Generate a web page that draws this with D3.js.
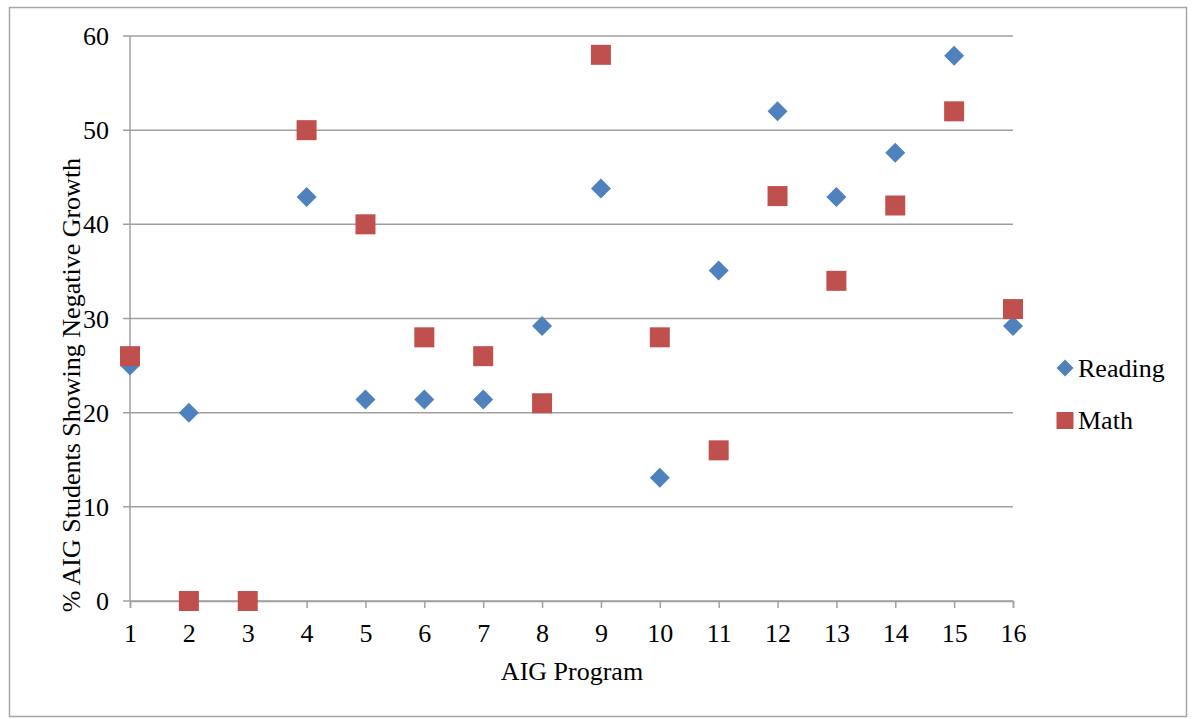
<!DOCTYPE html>
<html>
<head>
    <script src="https://d3js.org/d3.v7.min.js"></script>
</head>
<body style="margin: 0; padding: 0; background: #fff;">
    <div id="container"></div>
    <script>
        // Valores
        var programs = [1, 2, 3, 4, 5, 6, 7, 8, 9, 10, 11, 12, 13, 14, 15, 16];
        var reading = [25, 20, 0, 42.9, 21.4, 21.4, 21.4, 29.2, 43.8, 13.1, 35.1, 52, 42.9, 47.6, 57.9, 29.2];
        var math = [26, 0, 0, 50, 40, 28, 26, 21, 58, 28, 16, 43, 34, 42, 52, 31];
        var yTicks = [0, 10, 20, 30, 40, 50, 60];
        var seriesNames = ["Reading", "Math"];

        var colors = { Reading: "#4F81BD", Math: "#C0504D" };
        var width = 1196, height = 719;
        var font = "'Liberation Serif', 'Times New Roman', serif";
        var fontSize = "26px";

        var svg = d3.select("#container").append("svg")
            .attr("width", width)
            .attr("height", height);

        // borda do gráfico
        svg.append("rect")
            .attr("x", 9.5).attr("y", 7.5)
            .attr("width", 1177).attr("height", 709)
            .style("fill", "none")
            .style("stroke", "#A6A6A6")
            .style("stroke-width", 1.5);

        var x = d3.scaleLinear().domain([1, 16]).range([130, 1013]);
        var y = d3.scaleLinear().domain([0, 60]).range([601, 36]);

        // linhas de grade
        svg.append("g").selectAll("line")
            .data(yTicks)
            .enter().append("line")
            .attr("x1", 123).attr("x2", 1013)
            .attr("y1", d => y(d)).attr("y2", d => y(d))
            .style("stroke", "#A0A0A0")
            .style("stroke-width", 1.5);

        // eixo Y
        svg.append("line")
            .attr("x1", 130).attr("x2", 130)
            .attr("y1", y(60)).attr("y2", y(0))
            .style("stroke", "#A0A0A0")
            .style("stroke-width", 1.5);

        svg.append("g").selectAll("text")
            .data(yTicks)
            .enter().append("text")
            .attr("x", 109)
            .attr("y", d => y(d) + 9)
            .attr("text-anchor", "end")
            .style("font-family", font)
            .style("font-size", fontSize)
            .text(d => d);

        // eixo X
        var xAxis = svg.append("g")
            .attr("transform", "translate(0," + y(0) + ")")
            .call(d3.axisBottom(x).tickValues(programs).tickSize(7).tickFormat(d3.format("d")));
        xAxis.select(".domain").style("stroke", "#A0A0A0").style("stroke-width", 1.5);
        xAxis.selectAll(".tick line").style("stroke", "#A0A0A0").style("stroke-width", 1.5);
        xAxis.selectAll(".tick text")
            .attr("y", 41)
            .attr("dy", null)
            .style("font-family", font)
            .style("font-size", fontSize)
            .style("fill", "#000");

        // títulos
        svg.append("text")
            .attr("x", 572).attr("y", 680)
            .attr("text-anchor", "middle")
            .style("font-family", font)
            .style("font-size", fontSize)
            .text("AIG Program");

        svg.append("text")
            .attr("transform", "translate(80,385) rotate(-90)")
            .attr("text-anchor", "middle")
            .style("font-family", font)
            .style("font-size", fontSize)
            .text("% AIG Students Showing Negative Growth");

        var diamond = d3.symbol().type(d3.symbolSquare).size(200);

        // série Reading (losangos)
        svg.append("g").selectAll("path")
            .data(reading)
            .enter().append("path")
            .attr("d", diamond)
            .attr("transform", (d, i) => "translate(" + x(programs[i]) + "," + y(d) + ") rotate(45)")
            .style("fill", colors.Reading);

        // série Math (quadrados)
        svg.append("g").selectAll("rect")
            .data(math)
            .enter().append("rect")
            .attr("x", (d, i) => x(programs[i]) - 10)
            .attr("y", d => y(d) - 10)
            .attr("width", 20).attr("height", 20)
            .style("fill", colors.Math);

        // legenda
        var legend = svg.append("g").selectAll("g")
            .data(seriesNames)
            .enter().append("g")
            .attr("transform", (d, i) => "translate(1065," + (368 + i * 52.5) + ")");

        legend.each(function (d) {
            var g = d3.select(this);
            if (d === "Reading") {
                g.append("path")
                    .attr("d", d3.symbol().type(d3.symbolSquare).size(145))
                    .attr("transform", "rotate(45)")
                    .style("fill", colors.Reading);
            } else {
                g.append("rect")
                    .attr("x", -8.5).attr("y", -8.5)
                    .attr("width", 17).attr("height", 17)
                    .style("fill", colors.Math);
            }
        });

        legend.append("text")
            .attr("x", 13).attr("y", 8.5)
            .style("font-family", font)
            .style("font-size", fontSize)
            .text(d => d);
    </script>
</body>
</html>
